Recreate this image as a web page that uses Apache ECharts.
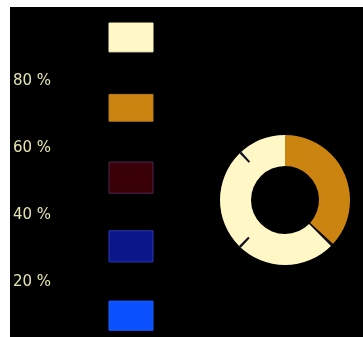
<!DOCTYPE html>
<html>
<head>
<meta charset="utf-8">
<script src="https://cdn.jsdelivr.net/npm/echarts@6/dist/echarts.min.js"></script>
<style>
  html, body { margin: 0; padding: 0; background: #fff; overflow: hidden; }
  #chart { position: absolute; left: 10px; top: 7px; width: 353px; height: 346px; background: #000; }
</style>
</head>
<body>
<div id="chart"></div>
<script>
// colour scale bands (percent)
const bandLow = [5.6, 26, 46.5, 68, 88.7];
const bandHigh = [14.3, 35.3, 55.8, 76, 97.3];
const bandColors = ['#0a50ff', '#0a168a', '#3a0008', '#cc8411', '#fff8c6'];
const bandBorders = ['#1a5cff', '#2a38b0', '#4a2850', '#b87a20', '#fff8c6'];
const tickLabels = ['20 %', '40 %', '60 %', '80 %'];

// donut
const ringNames = ['gold', 'sep', 'cream'];
const ringValues = [36.8, 0.7, 62.5];
const ringColors = ['#cc8411', '#101020', '#fff8c6'];
// small outer ticks on the ring
const tickValues = [37.5, 24.4, 0.6, 25.2, 0.6, 11.7];
const tickColors = ['transparent', 'transparent', '#101020', 'transparent', '#101020', 'transparent'];

const chart = echarts.init(document.getElementById('chart'));

chart.setOption({
  backgroundColor: '#000',
  animation: false,
  grid: { left: 98, top: 7, width: 45, height: 335 },
  xAxis: { type: 'category', data: ['scale'], show: false },
  yAxis: {
    type: 'value', min: 0, max: 100, interval: 20,
    axisLine: { show: false }, axisTick: { show: false }, splitLine: { show: false },
    axisLabel: {
      margin: 96, align: 'left',
      color: '#e4e4b0', fontSize: 15, fontFamily: 'DejaVu Sans',
      formatter: v => (v > 0 && v < 100) ? tickLabels[v / 20 - 1] : ''
    }
  },
  series: [
    {
      type: 'custom',
      data: bandLow.map((lo, i) => [0, lo, bandHigh[i]]),
      renderItem: (params, api) => {
        const i = params.dataIndex;
        const top = api.coord([0, api.value(2)]);
        const bot = api.coord([0, api.value(1)]);
        const w = api.size([1, 0])[0];
        return {
          type: 'rect',
          shape: { x: top[0] - w / 2, y: top[1], width: w, height: bot[1] - top[1] },
          style: { fill: bandColors[i], stroke: bandBorders[i], lineWidth: 1 }
        };
      }
    },
    {
      type: 'pie',
      center: [275, 193],
      radius: [34, 65],
      startAngle: 90,
      clockwise: true,
      silent: true,
      label: { show: false },
      labelLine: { show: false },
      data: ringValues.map((v, i) => ({ name: ringNames[i], value: v, itemStyle: { color: ringColors[i] } }))
    },
    {
      type: 'pie',
      center: [275, 193],
      radius: [52, 65],
      startAngle: 90,
      clockwise: true,
      silent: true,
      label: { show: false },
      labelLine: { show: false },
      data: tickValues.map((v, i) => ({ value: v, itemStyle: { color: tickColors[i] } }))
    }
  ]
});
</script>
</body>
</html>
